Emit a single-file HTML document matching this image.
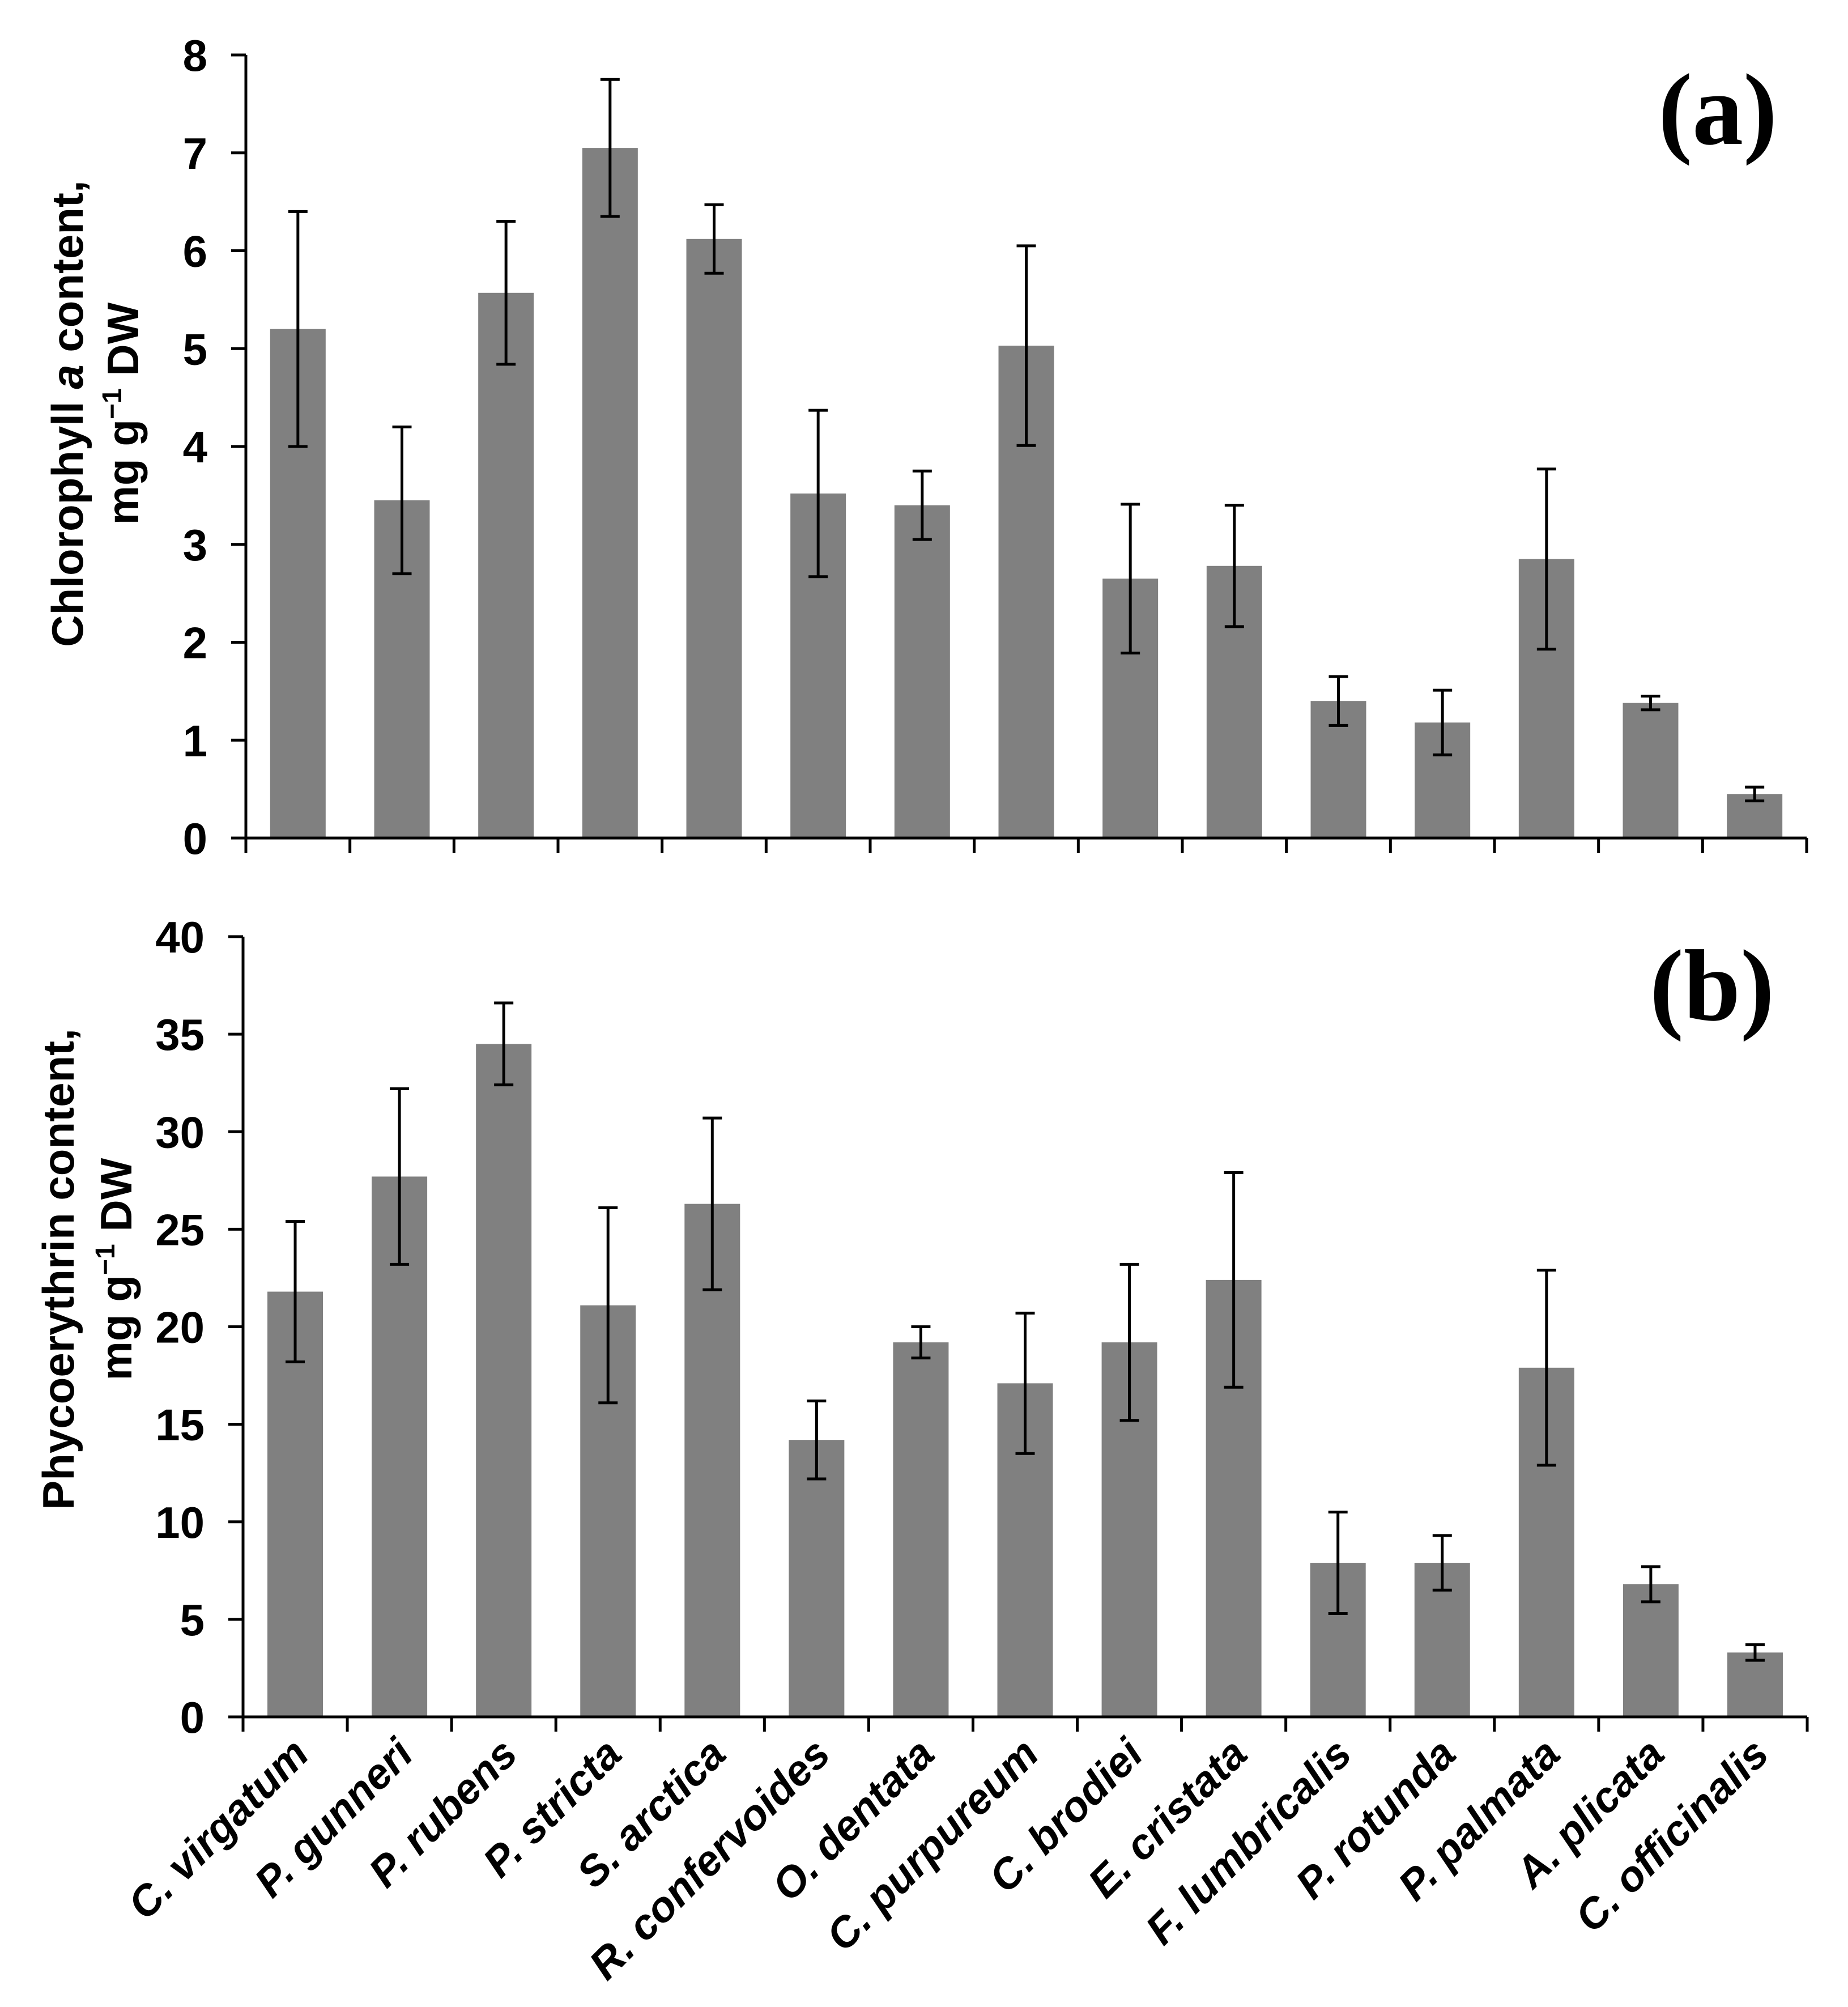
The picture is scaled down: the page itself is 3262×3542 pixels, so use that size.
<!DOCTYPE html>
<html><head><meta charset="utf-8"><style>
html,body{margin:0;padding:0;background:#fff;}
svg{display:block;}
</style></head><body>
<svg id="chart" width="3262" height="3542" viewBox="0 0 3262 3542" xmlns="http://www.w3.org/2000/svg">
<rect width="3262" height="3542" fill="#fff"/>
<g id="pa"></g>
<g id="pb"></g>
<g id="xl"></g>
<text transform="translate(146,730) rotate(-90)" text-anchor="middle" font-family="Liberation Sans, sans-serif" font-weight="bold" font-size="78" fill="#000">Chlorophyll <tspan font-style="italic">a</tspan> content,</text>
<text transform="translate(244,730) rotate(-90)" text-anchor="middle" font-family="Liberation Sans, sans-serif" font-weight="bold" font-size="78" fill="#000">mg g<tspan dy="-30" font-size="48">−1</tspan><tspan dy="30"> DW</tspan></text>
<text transform="translate(130,2240) rotate(-90)" text-anchor="middle" font-family="Liberation Sans, sans-serif" font-weight="bold" font-size="78" fill="#000">Phycoerythrin content,</text>
<text transform="translate(232,2240) rotate(-90)" text-anchor="middle" font-family="Liberation Sans, sans-serif" font-weight="bold" font-size="78" fill="#000">mg g<tspan dy="-30" font-size="48">−1</tspan><tspan dy="30"> DW</tspan></text>
<text x="3137" y="254" text-anchor="end" font-family="Liberation Serif, serif" font-weight="bold" font-size="180" fill="#000">(a)</text>
<text x="3132" y="1800" text-anchor="end" font-family="Liberation Serif, serif" font-weight="bold" font-size="180" fill="#000">(b)</text>
</svg>
<script>
const categories = ["C. virgatum","P. gunneri","P. rubens","P. stricta","S. arctica","R. confervoides","O. dentata","C. purpureum","C. brodiei","E. cristata","F. lumbricalis","P. rotunda","P. palmata","A. plicata","C. officinalis"];
const chlA = [5.2,3.45,5.57,7.05,6.12,3.52,3.4,5.03,2.65,2.78,1.4,1.18,2.85,1.38,0.45];
const chlAErr = [1.2,0.75,0.73,0.7,0.35,0.85,0.35,1.02,0.76,0.62,0.25,0.33,0.92,0.07,0.07];
const phyco = [21.8,27.7,34.5,21.1,26.3,14.2,19.2,17.1,19.2,22.4,7.9,7.9,17.9,6.8,3.3];
const phycoErr = [3.6,4.5,2.1,5.0,4.4,2.0,0.8,3.6,4.0,5.5,2.6,1.4,5.0,0.9,0.4];
const ticksA = [0,1,2,3,4,5,6,7,8];
const ticksB = [0,5,10,15,20,25,30,35,40];

const NS = "http://www.w3.org/2000/svg";
function mk(parent, tag, attrs){const e=document.createElementNS(NS,tag);for(const k in attrs)e.setAttribute(k,attrs[k]);parent.appendChild(e);return e;}

function panel(g, x0, x1, yTop, yZero, maxV, ticks, vals, errs, key){
  const n = categories.length;
  const cw = (x1-x0)/n;
  const ys = v => yZero - (v/maxV)*(yZero-yTop);
  const xc = i => x0 + cw*(i+0.5);
  vals.forEach((v,i)=>{
    const r = mk(g,'rect',{x:xc(i)-49,y:ys(v),width:98,height:yZero-ys(v),fill:'#808080'});
    
    
  });
  vals.forEach((v,i)=>{
    const e = mk(g,'g',{stroke:'#000','stroke-width':5});
    
    
    const hi=ys(v+errs[i]), lo=ys(v-errs[i]), x=xc(i);
    mk(e,'line',{x1:x,x2:x,y1:hi,y2:lo});
    mk(e,'line',{x1:x-17,x2:x+17,y1:hi,y2:hi});
    mk(e,'line',{x1:x-17,x2:x+17,y1:lo,y2:lo});
  });
  const ax = mk(g,'g',{stroke:'#000','stroke-width':5,fill:'none'});
  
  
  mk(ax,'line',{x1:x0,x2:x0,y1:yTop,y2:yZero+26});
  mk(ax,'line',{x1:x0-26,x2:x1,y1:yZero,y2:yZero});
  for(let i=1;i<=n;i++) mk(ax,'line',{x1:x0+cw*i,x2:x0+cw*i,y1:yZero,y2:yZero+26});
  ticks.forEach(t=>{
    mk(ax,'line',{x1:x0-26,x2:x0,y1:ys(t),y2:ys(t)});
    const tx = mk(g,'text',{x:x0-68,y:ys(t)+28,'text-anchor':'end','font-family':'Liberation Sans, sans-serif','font-weight':'bold','font-size':78,fill:'#000'});
    
    
    tx.textContent = t;
  });
  return xc;
}
panel(document.getElementById('pa'), 434, 3189, 97, 1479, 8, ticksA, chlA, chlAErr, 'a');
const xcB = panel(document.getElementById('pb'), 429, 3190, 1653, 3030, 40, ticksB, phyco, phycoErr, 'b');
const xl = document.getElementById('xl');
categories.forEach((c,i)=>{
  const x = xcB(i)+28, y = 3100;
  const t = mk(xl,'text',{transform:`translate(${x},${y}) rotate(-45)`,'text-anchor':'end','font-family':'Liberation Sans, sans-serif','font-weight':'bold','font-style':'italic','font-size':75,fill:'#000'});
  
  
  t.textContent = c;
});
</script>
</body></html>
